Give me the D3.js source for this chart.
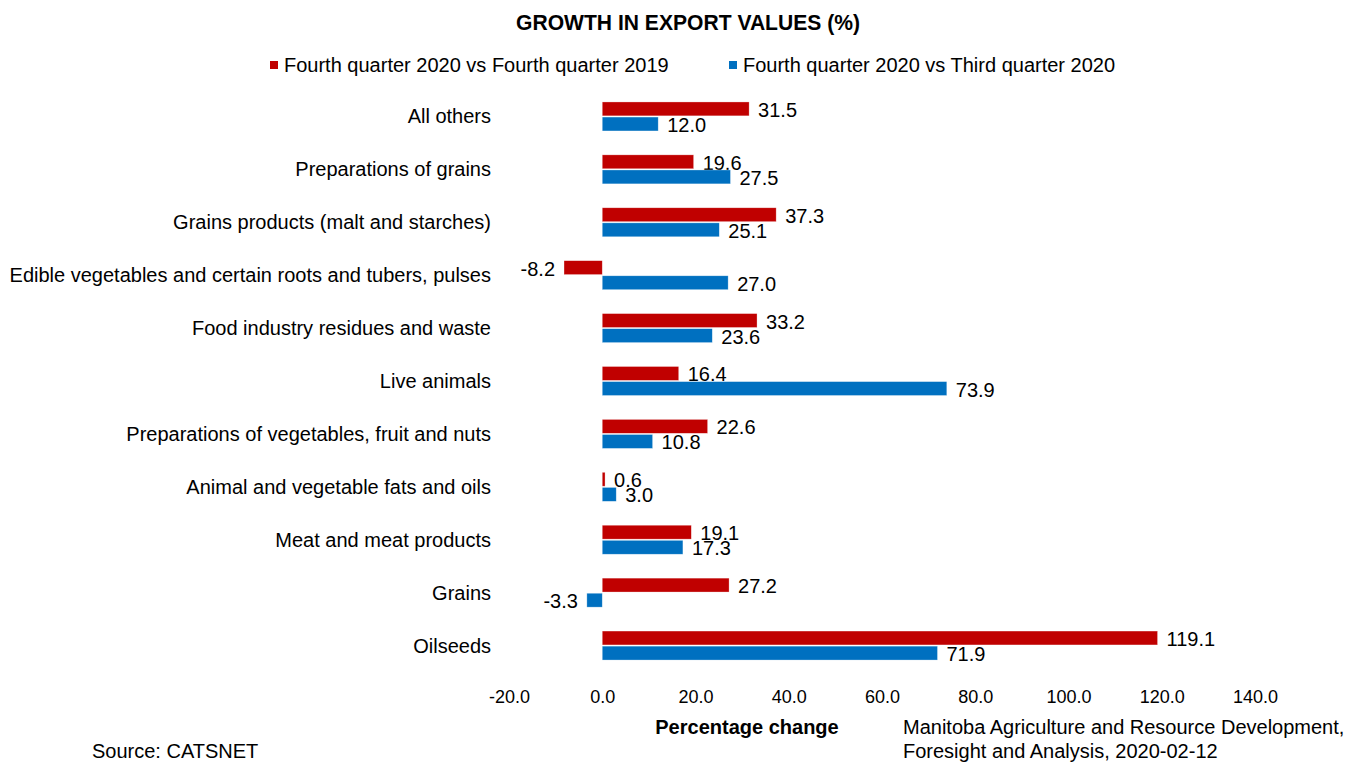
<!DOCTYPE html>
<html>
<head>
<meta charset="utf-8">
<script src="https://cdn.jsdelivr.net/npm/d3@7"></script>
<style>
	body { margin: 0; background: #fff; }
	svg text { font-family: "Liberation Sans", Arial, sans-serif; fill: #000; }
</style>
</head>
<body>
<svg width="1356" height="763"></svg>
<script>
// categories top to bottom
var categories = [
	'All others',
	'Preparations of grains',
	'Grains products (malt and starches)',
	'Edible vegetables and certain roots and tubers, pulses',
	'Food industry residues and waste',
	'Live animals',
	'Preparations of vegetables, fruit and nuts',
	'Animal and vegetable fats and oils',
	'Meat and meat products',
	'Grains',
	'Oilseeds'
];
var seriesNames = ['Fourth quarter 2020 vs Fourth quarter 2019', 'Fourth quarter 2020 vs Third quarter 2020'];
var q4vsQ4 = [31.5, 19.6, 37.3, -8.2, 33.2, 16.4, 22.6, 0.6, 19.1, 27.2, 119.1];
var q4vsQ3 = [12.0, 27.5, 25.1, 27.0, 23.6, 73.9, 10.8, 3.0, 17.3, -3.3, 71.9];
var xTicks = [-20, 0, 20, 40, 60, 80, 100, 120, 140];
var colors = ['#C00000', '#0070C0'];

// plain hyphen for negatives, like the original
var fmt = function(v) { return d3.format('.1f')(v).replace('\u2212', '-'); };

var svg = d3.select('svg');

var x = d3.scaleLinear().domain([-20, 140]).range([509, 1255]);
var y = d3.scaleBand().domain(categories).range([90, 672]);
var ySub = d3.scaleBand().domain([0, 1]).range([-14.5, 14.5]).paddingInner(0.08);
var color = d3.scaleOrdinal().domain([0, 1]).range(colors);

// title
svg.append('text')
	.attr('x', 688)
	.attr('y', 30)
	.attr('text-anchor', 'middle')
	.style('font-family', '"Liberation Sans Narrow", "Arial Narrow", "Liberation Sans", sans-serif')
	.style('font-weight', 'bold')
	.style('font-size', '22px')
	.attr('textLength', 344)
	.attr('lengthAdjust', 'spacingAndGlyphs')
	.text('GROWTH IN EXPORT VALUES (%)');

// legend
var legendX = [270, 729];
var legend = svg.append('g').selectAll('g')
	.data(seriesNames)
	.enter().append('g')
	.attr('transform', function(d, i) {
		return 'translate(' + legendX[i] + ',65)';
	});
legend.append('rect')
	.attr('x', 0).attr('y', -4)
	.attr('width', 8).attr('height', 8)
	.attr('fill', function(d, i) { return color(i); });
legend.append('text')
	.attr('x', 14)
	.attr('dy', '0.35em')
	.style('font-size', '20px')
	.text(function(d) { return d; });

// category labels
svg.append('g').selectAll('text')
	.data(categories)
	.enter().append('text')
	.attr('x', 491)
	.attr('y', function(d) { return y(d) + y.bandwidth() / 2; })
	.attr('dy', '0.35em')
	.attr('text-anchor', 'end')
	.style('font-size', '20px')
	.text(function(d) { return d; });

// bars
var rows = categories.map(function(c, i) {
	return [{cat: c, s: 0, v: q4vsQ4[i]}, {cat: c, s: 1, v: q4vsQ3[i]}];
});
var flat = [].concat.apply([], rows);

var bars = svg.append('g').selectAll('g')
	.data(flat)
	.enter().append('g')
	.attr('transform', function(d) {
		return 'translate(0,' + (y(d.cat) + y.bandwidth() / 2 + ySub(d.s)) + ')';
	});

bars.append('rect')
	.attr('x', function(d) { return x(Math.min(0, d.v)); })
	.attr('width', function(d) { return Math.abs(x(d.v) - x(0)); })
	.attr('height', ySub.bandwidth())
	.attr('fill', function(d) { return color(d.s); })
	.attr('stroke', '#fff')
	.attr('stroke-opacity', 0.5)
	.attr('stroke-width', 0.6);

bars.append('text')
	.attr('x', function(d) { return d.v < 0 ? x(d.v) - 9 : x(d.v) + 9; })
	.attr('y', ySub.bandwidth() / 2 + 1)
	.attr('dy', '0.35em')
	.attr('text-anchor', function(d) { return d.v < 0 ? 'end' : 'start'; })
	.style('font-size', '20px')
	.text(function(d) { return fmt(d.v); });

// x axis (labels only)
var axis = svg.append('g')
	.attr('transform', 'translate(0,697)')
	.call(d3.axisBottom(x).tickValues(xTicks).tickFormat(fmt).tickSize(0).tickPadding(0));
axis.select('.domain').remove();
axis.selectAll('text')
	.attr('dy', '0.35em')
	.attr('y', 0)
	.style('font-family', '"Liberation Sans", Arial, sans-serif')
	.style('font-size', '18px')
	.attr('fill', '#000');

svg.append('text')
	.attr('x', 747)
	.attr('y', 727)
	.attr('dy', '0.35em')
	.attr('text-anchor', 'middle')
	.style('font-weight', 'bold')
	.style('font-size', '20px')
	.text('Percentage change');

svg.append('text')
	.attr('x', 903).attr('y', 727).attr('dy', '0.35em')
	.style('font-size', '20px')
	.text('Manitoba Agriculture and Resource Development,');
svg.append('text')
	.attr('x', 903).attr('y', 751).attr('dy', '0.35em')
	.style('font-size', '20px')
	.text('Foresight and Analysis, 2020-02-12');
svg.append('text')
	.attr('x', 92).attr('y', 751).attr('dy', '0.35em')
	.style('font-size', '20px')
	.text('Source: CATSNET');
</script>
</body>
</html>
